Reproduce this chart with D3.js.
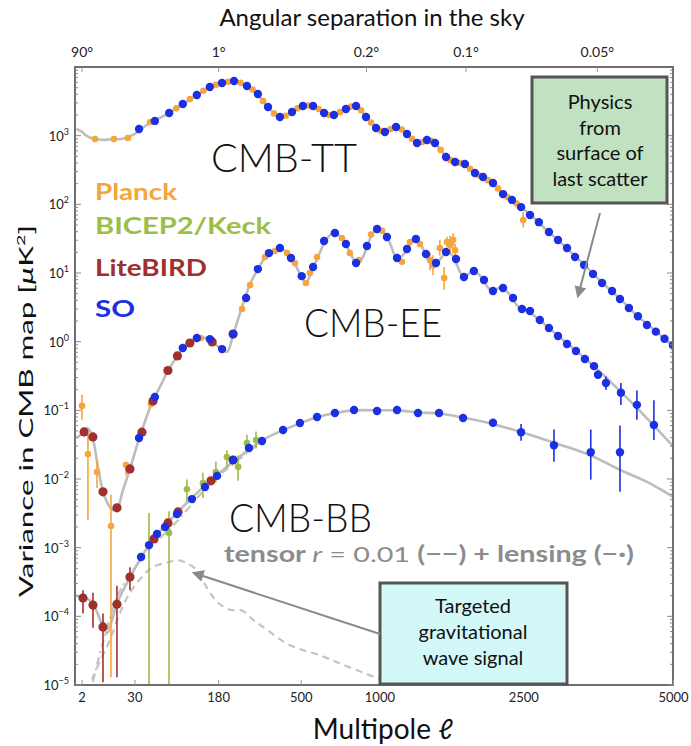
<!DOCTYPE html>
<html>
<head>
<meta charset="utf-8">
<script src="https://cdn.jsdelivr.net/npm/d3@7"></script>
<style>
  body { margin: 0; background: #fff; }
  svg { font-family: Lato, "Open Sans", sans-serif; }
</style>
</head>
<body>
<div id="chart"></div>
<script>
// CMB power spectra: theory curves + measurements (Planck, BICEP2/Keck, LiteBIRD, SO)

// theory curves [ell, D_ell in uK^2]
const ttTheory = [[1.2,1250],[2,1150],[3,1000],[5,900],[8,870],[12,880],[20,900],[30,1050],[40,1350],[50,1600],[70,2050],[100,2950],[130,4000],[160,5100],[190,5850],[220,6200],[250,5850],[280,4900],[310,3900],[350,2600],[400,1870],[430,1950],[480,2500],[530,2780],[570,2650],[620,2200],[680,1980],[720,2150],[780,2550],[830,2650],[880,2150],[950,1450],[1030,1130],[1080,1230],[1130,1330],[1180,1250],[1260,950],[1320,790],[1400,860],[1460,830],[1530,650],[1620,460],[1690,410],[1790,385],[1880,300],[2000,250],[2120,205],[2240,142],[2350,116],[2470,91],[2600,70],[2850,40],[3100,24],[3400,13],[3700,7.1],[4000,4.2],[4300,2.4],[4600,1.55],[5000,0.85]];
const eeTheory = [[1.2,0.04],[2,0.045],[3,0.055],[4,0.05],[5,0.035],[7,0.012],[9,0.006],[12,0.0039],[14,0.0035],[17,0.004],[20,0.0065],[26,0.014],[35,0.04],[50,0.135],[60,0.22],[75,0.42],[100,0.8],[130,1.12],[150,1.12],[180,0.85],[205,0.71],[225,1.3],[250,2.9],[280,6.7],[310,11.4],[340,17],[380,22],[400,23.1],[430,20],[470,13.5],[510,8.2],[527,7.15],[560,11],[600,19],[640,31],[690,38.5],[740,31],[790,20],[830,14],[870,16],[910,25],[950,38],[990,44],[1030,40],[1080,28],[1140,16.5],[1200,19],[1280,30],[1320,30.5],[1380,21],[1450,13.5],[1520,15],[1600,20.3],[1660,18],[1780,8.8],[1880,10.7],[1950,9.5],[2100,5.5],[2200,6.1],[2300,5.2],[2450,3.1],[2550,2.85],[2700,2.15],[3000,1.2],[3500,0.48],[4000,0.19],[4500,0.075],[5000,0.03]];
const bbTotal = [[1.2,2.0e-4],[2,1.9e-4],[4,1.7e-4],[6,1.2e-4],[8.6,7.0e-5],[10.5,5.7e-5],[13,8.5e-5],[16,1.5e-4],[26,3.7e-4],[47,1.15e-3],[87,3.2e-3],[177,0.0114],[330,0.037],[420,0.052],[590,0.08],[700,0.092],[820,0.1],[1000,0.1],[1150,0.1],[1330,0.093],[1530,0.09],[1780,0.078],[2100,0.064],[2500,0.047],[3000,0.032],[3500,0.022],[4000,0.0135],[4500,0.009],[5000,0.0055]];
const bbTensor = [[4.5,1.2e-5],[8,2.5e-5],[12,4.5e-5],[18,1.1e-4],[26,2.2e-4],[38,3.8e-4],[50,5.2e-4],[75,6.2e-4],[87,6.6e-4],[105,6.0e-4],[127,4.7e-4],[158,2.2e-4],[185,1.5e-4],[214,1.25e-4],[256,1.2e-4],[290,9.0e-5],[330,7.0e-5],[447,3.8e-5],[603,2.7e-5],[788,1.8e-5],[1124,1.0e-5]];
const bbLensing = [[4.8,1.1e-5],[8.6,4.2e-5],[18,2.3e-4],[30,5.0e-4],[50,1.07e-3],[87,2.4e-3],[130,5.5e-3],[177,0.0105],[330,0.036]];

// measurements [ell, D_ell] or [ell, D_ell, low, high]
const soTT = [[34.5,1250],[53,1640],[74,2140],[98,2890],[127,3910],[158,5110],[191,5850],[227,6250],[270,5290],[310,4040],[350,2620],[401,1870],[457,2210],[511,2700],[565,2700],[627,2140],[686,2000],[762,2450],[830,2700],[900,1870],[974,1290],[1043,1130],[1133,1340],[1226,1060],[1315,782],[1407,865],[1484,782],[1594,489],[1688,414],[1793,387],[1905,286],[1997,250],[2116,205],[2239,141],[2353,116],[2471,91],[2591,70],[2714,55],[2857,39.5],[2989,30.3],[3125,23.1],[3249,17.1],[3391,13.1],[3537,9.7],[3687,7.15],[3858,5.47],[3996,4.18],[4156,3.09],[4321,2.35],[4490,1.75],[4660,1.4],[4830,1.1],[5000,0.88]];
const planckTT = [[5.5,894],[14.3,894],[24.3,925],[47,1580],[86,2500],[112,3400],[142,4500],[174,5500],[209,6100],[248,5900],[290,4700],[330,3200],[375,2100],[428,1950],[484,2500],[538,2750],[596,2450],[656,2000],[724,2200],[796,2650],[865,2350],[937,1550],[1008,1180],[1088,1250],[1180,1230],[1270,900],[1360,800],[1445,840],[1540,620],[1640,440],[1740,400],[1850,330],[1950,265],[2055,225],[2177,170],[2296,128],[2412,103],[2500,59,46,77]];

const soEE = [[34.5,0.0395],[53,0.156],[98,0.81],[127,1.13],[158,1.09],[191,0.78],[224,1.29],[267,4.33],[310,11.4],[354,19.5],[401,23.1],[452,16.5],[505,9.0],[565,12.2],[627,29.2],[692,38.3],[762,26.4],[830,14],[907,24.7],[982,43.7],[1059,33.4],[1141,16.5],[1226,22.4],[1305,31.3],[1398,18.9],[1494,14],[1594,20.2],[1698,16],[1783,8.75],[1893,10.7],[2009,7.9],[2116,5.47],[2239,6.05],[2366,4.33],[2483,2.99],[2591,2.8],[2727,2.07],[2857,1.58],[2989,1.21],[3125,0.925],[3263,0.73],[3405,0.56],[3553,0.44],[3619,0.33,0.29,0.38],[3753,0.25,0.2,0.31],[4013,0.18,0.12,0.25],[4302,0.12,0.073,0.195],[4623,0.061,0.037,0.14]];
const planckEE = [[2.08,0.116,0.073,0.169],[3.4,0.0231,0.0025,0.0468],[6.2,0.0126,0.0074,0.0187],[12.6,0.00207,0.000013,0.0059],[22.7,0.016,0.0113,0.0175],[48.1,0.1236],[136,1.13],[253,2.99],[281,6.69],[338,17.1],[379,20.9],[433,19.5],[471,14.0],[527,7.15],[548,10],[587,17.1],[736,32.3],[788,19.5],[850,15.4],[937,36.3],[1021,41.1],[1183,14.6],[1252,28.2],[1342,26.4],[1436,15.5,11,19.5],[1465,12.9,9.3,18.1],[1532,23.1,18,30.4],[1575,8.46,5.7,12.2],[1604,28.2,23.9,33.8],[1636,25.4,19.5,35],[1667,30.4,25,38],[1688,21.5,17,27]];
const litebirdEE = [[2.5,0.0484],[4.8,0.041],[8.6,0.0065],[16.2,0.0038],[26,0.014],[37.6,0.048],[50.6,0.137],[72,0.38],[88,0.62],[112,0.957],[164,0.99],[224,1.29]];

const soBB = [[36.6,7.3e-4],[45.6,1.09e-3],[55.9,1.58e-3],[67.5,2.0e-3],[87.3,3.09e-3],[116.5,5.1e-3],[146,7.65e-3],[177,0.0111],[224,0.0189],[277,0.0283],[326,0.0358],[415,0.0517],[496,0.0655],[587,0.08],[692,0.0914],[816,0.101],[982,0.0977],[1141,0.101],[1324,0.0914],[1524,0.0914],[1773,0.0774],[2116,0.066,0.058,0.075],[2471,0.048,0.036,0.063],[2930,0.031,0.0178,0.0525],[3500,0.0245,0.0098,0.0525],[3996,0.0245,0.0065,0.06]];
const litebirdBB = [[2.28,1.85e-4,1.1e-4,2.4e-4],[4.83,1.46e-4,6.8e-5,2.2e-4],[8.6,7.0e-5,1.1e-5,1.1e-4],[16.2,1.5e-4,1.3e-5,2.8e-4],[26,3.74e-4,2.4e-4,5.2e-4],[51.9,1.34e-3],[72.1,2.29e-3],[89.1,3.31e-3],[161,9.4e-3],[224,0.0189]];
const bicepBB = [[45.6,5e-6,1e-6,3.2e-3],[73.7,1.64e-3,1e-6,3.4e-3],[106,7.1e-3,4.6e-3,9.8e-3],[141,8.7e-3,5.3e-3,0.0123],[174,0.0126,8.9e-3,0.0178],[205,0.0209,0.0149,0.0262],[240,0.015,0.0094,0.0219],[270,0.0334,0.0251,0.0441],[303,0.037,0.0279,0.049]];

// axes ticks
const bottomTicks = [2, 30, 180, 500, 1000, 2500, 5000];
const topTickEll = [2, 180, 900, 1800, 3600];
const topTickLabels = ["90°", "1°", "0.2°", "0.1°", "0.05°"];
const yTicks = [1e-5, 1e-4, 1e-3, 1e-2, 1e-1, 1e0, 1e1, 1e2, 1e3];

const W = 691, H = 746;
const margin = { top: 67, right: 18, bottom: 61, left: 75 };

const svg = d3.select("#chart").append("svg")
    .attr("width", W)
    .attr("height", H);

const x = d3.scalePow().exponent(0.4)
    .domain([1, 5000])
    .range([margin.left, W - margin.right]);
const y = d3.scaleLog()
    .domain([1e-5, 1e4])
    .range([H - margin.bottom, margin.top]);

const colors = { planck: "#f6a53c", bicep: "#9cbd48", litebird: "#a0302e", so: "#1b2fe3", theory: "#bdbdbd" };

const defs = svg.append("defs");
defs.append("clipPath").attr("id", "plotclip")
    .append("rect")
    .attr("x", x.range()[0]).attr("y", y.range()[1])
    .attr("width", x.range()[1] - x.range()[0])
    .attr("height", y.range()[0] - y.range()[1]);
defs.append("marker")
    .attr("id", "arrow")
    .attr("viewBox", "0 0 10 10")
    .attr("refX", 8).attr("refY", 5)
    .attr("markerWidth", 6).attr("markerHeight", 6)
    .attr("orient", "auto")
    .append("path")
    .attr("d", "M0,0 L10,5 L0,10 Z")
    .attr("fill", "#8a8a8a");

const plot = svg.append("g").attr("clip-path", "url(#plotclip)");

const line = d3.line()
    .x(d => x(d[0]))
    .y(d => y(d[1]))
    .curve(d3.curveCatmullRom.alpha(0.5));

// theory curves
plot.append("path").datum(bbTensor)
    .attr("d", line).attr("fill", "none")
    .attr("stroke", "#c4c4c4").attr("stroke-width", 2.2)
    .attr("stroke-dasharray", "7,5");
plot.append("path").datum(bbLensing)
    .attr("d", line).attr("fill", "none")
    .attr("stroke", "#c4c4c4").attr("stroke-width", 2.2)
    .attr("stroke-dasharray", "8,4,2,4");
[ttTheory, eeTheory, bbTotal].forEach(function(curve) {
    plot.append("path").datum(curve)
        .attr("d", line).attr("fill", "none")
        .attr("stroke", colors.theory).attr("stroke-width", 2.6);
});

// error bars + points
function drawSeries(data, color, r) {
    let g = plot.append("g");
    g.selectAll("line")
        .data(data.filter(d => d.length > 2))
        .enter().append("line")
        .attr("x1", d => x(d[0])).attr("x2", d => x(d[0]))
        .attr("y1", d => y(d[2])).attr("y2", d => y(d[3]))
        .attr("stroke", color).attr("stroke-width", 1.6);
    g.selectAll("circle")
        .data(data)
        .enter().append("circle")
        .attr("cx", d => x(d[0]))
        .attr("cy", d => y(d[1]))
        .attr("r", r)
        .attr("fill", color);
}

drawSeries(planckTT, colors.planck, 3.3);
drawSeries(planckEE, colors.planck, 3.3);
drawSeries(bicepBB, colors.bicep, 3.3);
drawSeries(litebirdEE, colors.litebird, 4.6);
drawSeries(litebirdBB, colors.litebird, 4.6);
drawSeries(soTT, colors.so, 4.2);
drawSeries(soEE, colors.so, 4.2);
drawSeries(soBB, colors.so, 4.2);

// frame
svg.append("rect")
    .attr("x", x.range()[0]).attr("y", y.range()[1])
    .attr("width", x.range()[1] - x.range()[0])
    .attr("height", y.range()[0] - y.range()[1])
    .attr("fill", "none").attr("stroke", "#6e6e6e").attr("stroke-width", 2);

// y axis: major + minor ticks, both sides
const minor = [];
for (let e = -5; e < 4; e++) for (let m = 2; m < 10; m++) minor.push(m * Math.pow(10, e));
[x.range()[0], x.range()[1]].forEach(function(px, i) {
    let dir = i === 0 ? 1 : -1;
    svg.append("g").selectAll("line").data(minor).enter().append("line")
        .attr("x1", px).attr("x2", px + dir * 3)
        .attr("y1", d => y(d)).attr("y2", d => y(d))
        .attr("stroke", "#888").attr("stroke-width", 1);
    svg.append("g").selectAll("line").data(yTicks).enter().append("line")
        .attr("x1", px).attr("x2", px + dir * 6)
        .attr("y1", d => y(d)).attr("y2", d => y(d))
        .attr("stroke", "#888").attr("stroke-width", 1);
});

const yLab = svg.append("g").selectAll("text").data(yTicks).enter().append("text")
    .attr("x", x.range()[0] - 6)
    .attr("y", d => y(d) + 5)
    .attr("text-anchor", "end")
    .attr("font-size", 13)
    .attr("fill", "#222");
yLab.append("tspan").text("10");
yLab.append("tspan")
    .attr("dy", -6).attr("font-size", 9)
    .text(d => { let e = Math.round(Math.log10(d)); return e < 0 ? "\u2212" + (-e) : e; });

// bottom axis
svg.append("g")
    .attr("transform", "translate(0," + y.range()[0] + ")")
    .call(d3.axisBottom(x).tickValues(bottomTicks).tickFormat(d3.format("d"))
        .tickSizeInner(-5).tickSizeOuter(0).tickPadding(8))
    .call(g => g.select(".domain").remove())
    .call(g => g.selectAll("line").attr("stroke", "#999"))
    .call(g => g.selectAll("text").attr("font-size", 13).attr("fill", "#222").attr("font-family", "Lato, sans-serif"));

// top axis (angular scale)
svg.append("g")
    .attr("transform", "translate(0," + y.range()[1] + ")")
    .call(d3.axisTop(x).tickValues(topTickEll).tickFormat((d, i) => topTickLabels[i])
        .tickSizeInner(-5).tickSizeOuter(0).tickPadding(10))
    .call(g => g.select(".domain").remove())
    .call(g => g.selectAll("line").attr("stroke", "#999"))
    .call(g => g.selectAll("text").attr("font-size", 14).attr("fill", "#222").attr("font-family", "Lato, sans-serif"));

// axis titles
svg.append("text")
    .attr("x", 372).attr("y", 26)
    .attr("text-anchor", "middle").attr("font-size", 24).attr("fill", "#111")
    .text("Angular separation in the sky");
svg.append("text")
    .attr("x", 383).attr("y", 739)
    .attr("text-anchor", "middle").attr("font-size", 28).attr("fill", "#111")
    .text("Multipole \u2113");
const yt = svg.append("text")
    .attr("transform", "translate(33,411) rotate(-90)")
    .attr("text-anchor", "middle").attr("font-size", 19).attr("fill", "#111")
    .attr("textLength", 372).attr("lengthAdjust", "spacingAndGlyphs");
yt.append("tspan").text("Variance in CMB map [");
yt.append("tspan").attr("font-style", "italic").text("\u03bc");
yt.append("tspan").text("K");
yt.append("tspan").attr("dy", -8).attr("font-size", 12).text("2");
yt.append("tspan").attr("dy", 8).text("]");

// spectrum labels
const bigLabels = [["CMB-TT", 211, 172, 146], ["CMB-EE", 304, 337, 138], ["CMB-BB", 229, 532, 143]];
bigLabels.forEach(function(b) {
    svg.append("text").attr("x", b[1]).attr("y", b[2])
        .attr("font-size", 40).attr("font-weight", 300).attr("fill", "#111")
        .attr("textLength", b[3]).attr("lengthAdjust", "spacingAndGlyphs")
        .text(b[0]);
});

// legend
const legend = [["Planck", colors.planck, 200, 82], ["BICEP2/Keck", colors.bicep, 234, 176], ["LiteBIRD", colors.litebird, 276, 112], ["SO", colors.so, 317, 40]];
legend.forEach(function(l) {
    svg.append("text").attr("x", 95).attr("y", l[2])
        .attr("font-size", 22).attr("font-weight", 700).attr("fill", l[1])
        .attr("textLength", l[3]).attr("lengthAdjust", "spacingAndGlyphs")
        .text(l[0]);
});

// tensor / lensing note
const note = svg.append("text").attr("x", 224).attr("y", 562)
    .attr("font-size", 22).attr("fill", "#8c8c8c").attr("font-weight", 700)
    .attr("textLength", 410).attr("lengthAdjust", "spacingAndGlyphs");
note.append("tspan").text("tensor ");
note.append("tspan").attr("font-style", "italic").attr("font-weight", 400).text("r");
note.append("tspan").attr("font-weight", 400).text(" = 0.01 ");
note.append("tspan").text("(\u2212\u2212) + lensing (\u2212\u00b7)");

// annotation boxes
function box(x0, y0, w, h, fill, lines, cx, y1, dy) {
    svg.append("rect").attr("x", x0).attr("y", y0).attr("width", w).attr("height", h)
        .attr("fill", fill).attr("stroke", "#555").attr("stroke-width", 3);
    lines.forEach(function(t, i) {
        svg.append("text").attr("x", cx).attr("y", y1 + i * dy)
            .attr("text-anchor", "middle").attr("font-size", 20).attr("fill", "#111")
            .text(t);
    });
}
box(532, 77, 135, 126, "#c0e2c0", ["Physics", "from", "surface of", "last scatter"], 600, 109, 25.5);
box(380, 583, 187, 101, "#d3f8f8", ["Targeted", "gravitational", "wave signal"], 473, 613, 26);

// arrows
svg.append("line").attr("x1", 600).attr("y1", 213).attr("x2", 578).attr("y2", 296)
    .attr("stroke", "#8a8a8a").attr("stroke-width", 2).attr("marker-end", "url(#arrow)");
svg.append("line").attr("x1", 380).attr("y1", 634).attr("x2", 194).attr("y2", 573)
    .attr("stroke", "#8a8a8a").attr("stroke-width", 2).attr("marker-end", "url(#arrow)");
</script>
</body>
</html>
